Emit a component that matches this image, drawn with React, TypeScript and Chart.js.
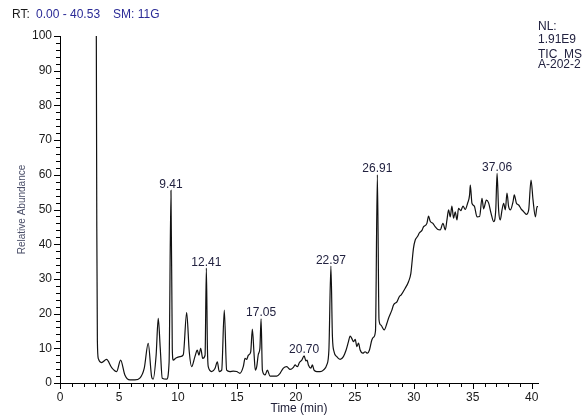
import React, { useEffect, useRef } from "react";
import { Chart, registerables } from "chart.js";

Chart.register(...registerables);

// Retention time (min) and relative abundance (%)
const times: number[] = [
  3.08, 3.12, 3.17, 3.25, 3.52, 3.95, 4.37, 4.8, 5.14, 5.5, 5.93, 6.35, 6.77, 7.14, 7.48, 7.77, 7.9, 8.15, 8.33, 8.5,
  8.67, 9.04, 9.25, 9.41, 9.52, 9.6, 9.83, 10.17, 10.45, 10.74, 10.96, 11.16, 11.44, 11.64, 11.78, 11.93, 12.1, 12.3, 12.41, 12.5,
  12.57, 12.86, 13.14, 13.34, 13.5, 13.71, 13.93, 14.13, 14.41, 14.69, 14.98, 15.26, 15.54, 15.69, 15.83, 15.97, 16.17, 16.31, 16.45, 16.56,
  16.68, 16.82, 16.95, 17.05, 17.16, 17.39, 17.58, 17.81, 18.09, 18.38, 18.66, 18.94, 19.23, 19.51, 19.79, 19.93, 20.13, 20.3, 20.5, 20.7,
  20.85, 20.95, 21.06, 21.27, 21.4, 21.54, 21.77, 22.05, 22.33, 22.62, 22.8, 22.97, 23.1, 23.24, 23.47, 23.75, 24.03, 24.26, 24.46, 24.6,
  24.75, 24.88, 25.03, 25.17, 25.31, 25.45, 25.68, 25.87, 26.07, 26.24, 26.44, 26.58, 26.75, 26.91, 27.05, 27.2, 27.49, 27.72, 27.85, 28.14,
  28.28, 28.57, 28.79, 28.93, 29.27, 29.55, 29.75, 29.84, 29.97, 30.12, 30.31, 30.48, 30.69, 30.82, 31.11, 31.25, 31.39, 31.62, 31.82, 32.01,
  32.24, 32.47, 32.67, 32.81, 32.95, 33.09, 33.23, 33.37, 33.51, 33.66, 33.79, 33.99, 34.17, 34.36, 34.56, 34.73, 34.79, 34.93, 35.13, 35.36,
  35.58, 35.78, 35.92, 36.15, 36.34, 36.55, 36.77, 36.95, 37.06, 37.19, 37.33, 37.48, 37.62, 37.76, 37.9, 38.04, 38.19, 38.41, 38.52, 38.7,
  38.89, 39.09, 39.31, 39.54, 39.74, 39.94, 40.11, 40.31, 40.45, 40.53,
];

const abundance: number[] = [
  100, 45, 12, 7, 5.9, 6.8, 4.5, 3.3, 6.6, 2.3, 0.9, 0.9, 1.4, 4.2, 11.4, 1.8, 1.1, 8, 18.6, 10,
  1.4, 1.1, 6, 55.5, 10, 6.6, 7.2, 7.6, 8.1, 20.3, 9, 4.7, 7.6, 9.5, 8, 10, 7.1, 8, 33.1, 10,
  4.7, 3.3, 4.2, 6.1, 3.3, 3.7, 21, 3.7, 3.3, 3.4, 3.3, 2.8, 4.7, 7.1, 6.8, 8, 9, 15.5, 8.6, 3.7,
  4.7, 8.3, 10, 18.5, 3.7, 2.3, 3.7, 2, 2, 2, 2.8, 4.3, 4.7, 3.9, 4.5, 5.2, 4.7, 5.9, 6.6, 7.8,
  6.4, 6.6, 5.2, 4.3, 5.2, 3.7, 3.3, 3.3, 3.7, 5.2, 9.5, 33.7, 13.3, 9, 7.6, 6.8, 7.6, 9.5, 11.9, 13.5,
  12.8, 11.9, 12.6, 10.5, 11.5, 9.5, 8.6, 9, 8.6, 9.5, 12.4, 13.2, 15, 60, 18.2, 16.7, 15.3, 17.2, 18.6, 21,
  22.5, 23.4, 25, 25.4, 27.3, 29.2, 31.6, 34.5, 38.8, 41.2, 42.2, 43.3, 44, 45, 46, 48.1, 46.6, 46, 45, 44.3,
  44.1, 46, 44.1, 47, 49.9, 47.9, 51, 47.5, 49.3, 47, 50.3, 49.7, 51, 50, 51.8, 54.2, 57, 51.8, 51, 47.9,
  48, 53.2, 50.2, 52.7, 51.9, 48.9, 46.5, 50, 60.4, 49.9, 47, 49.9, 51.8, 49.9, 54.7, 50.8, 49.9, 52.2, 54.2, 51.8,
  51.3, 50.2, 49.4, 48.6, 49.9, 58.5, 52.7, 47.9, 50.8, 50.8,
];

// Labelled peaks (retention times)
const peakTimes: number[] = [9.41, 12.41, 17.05, 20.7, 22.97, 26.91, 37.06];
const peakLabels: string[] = ["9.41", "12.41", "17.05", "20.70", "22.97", "26.91", "37.06"];

// Axis ranges and tick steps
const xMin = 0;
const xMax = 40.53;
const xMajorStep = 5;
const xMinorStep = 1;
const yMin = 0;
const yMax = 100;
const yMajorStep = 10;
const yMinorStep = 2;

const headerRT = "RT:";
const headerRange = "0.00 - 40.53";
const headerSM = "SM: 11G";
const infoLines: string[] = ["NL:", "1.91E9", "TIC  MS", "A-202-2"];

const FONT = "'Liberation Sans', Arial, Helvetica, sans-serif";

export default function App() {
  const ref = useRef<HTMLCanvasElement | null>(null);

  useEffect(() => {
    const canvas = ref.current;
    if (!canvas) return;

    const tickPlugin = {
      id: "tickMarks",
      afterDraw(chart: any) {
        const ctx = chart.ctx;
        const xs = chart.scales.x;
        const ys = chart.scales.y;
        const area = chart.chartArea;
        ctx.save();
        ctx.strokeStyle = "#000";
        ctx.lineWidth = 1;
        ctx.beginPath();
        for (let t = xMin; t <= 40 + 1e-6; t += xMinorStep) {
          const px = Math.round(xs.getPixelForValue(t)) + 0.5;
          const major = Math.abs(t % xMajorStep) < 1e-6;
          const len = major ? 6 : 4;
          ctx.moveTo(px, area.bottom);
          ctx.lineTo(px, area.bottom + len);
        }
        for (let v = yMin; v <= yMax + 1e-6; v += yMinorStep) {
          const py = Math.round(ys.getPixelForValue(v)) + 0.5;
          const major = Math.abs(v % yMajorStep) < 1e-6;
          const len = major ? 6 : 4;
          ctx.moveTo(area.left - len, py);
          ctx.lineTo(area.left, py);
        }
        ctx.stroke();
        ctx.restore();
      },
    };

    const textPlugin = {
      id: "texts",
      afterDraw(chart: any) {
        const ctx = chart.ctx;
        const xs = chart.scales.x;
        const ys = chart.scales.y;
        ctx.save();
        ctx.font = `12px ${FONT}`;
        // peak labels
        ctx.fillStyle = "#222240";
        ctx.textAlign = "center";
        ctx.textBaseline = "alphabetic";
        peakTimes.forEach((t, i) => {
          let idx = 0;
          let best = Infinity;
          times.forEach((tt, j) => {
            const d = Math.abs(tt - t);
            if (d < best) {
              best = d;
              idx = j;
            }
          });
          const px = xs.getPixelForValue(times[idx]);
          const py = ys.getPixelForValue(abundance[idx]);
          ctx.fillText(peakLabels[i], px, py - 2.5);
        });
        // header
        ctx.textAlign = "left";
        ctx.textBaseline = "middle";
        ctx.fillStyle = "#1a1a1a";
        ctx.fillText(headerRT, 12, 15);
        ctx.fillStyle = "#2a2a96";
        ctx.fillText(headerRange, 36, 15);
        ctx.fillText(headerSM, 113, 15);
        // info block
        ctx.fillStyle = "#222240";
        const ys2 = [27, 40, 55, 65];
        infoLines.forEach((s, i) => ctx.fillText(s, 538, ys2[i]));
        ctx.restore();
      },
    };

    const chart = new Chart(canvas, {
      type: "line",
      data: {
        datasets: [
          {
            data: times.map((t, i) => ({ x: t, y: abundance[i] })),
            borderColor: "#111",
            borderWidth: 1.2,
            pointRadius: 0,
            fill: false,
            cubicInterpolationMode: "monotone",
          },
        ],
      },
      options: {
        animation: false,
        responsive: false,
        maintainAspectRatio: false,
        layout: { padding: { top: 36, right: 47, left: 0, bottom: 0 } },
        plugins: { legend: { display: false }, tooltip: { enabled: false } },
        scales: {
          x: {
            type: "linear",
            min: xMin,
            max: xMax,
            border: { display: true, color: "#000", width: 1 },
            grid: { display: false, drawTicks: false },
            ticks: {
              stepSize: xMajorStep,
              includeBounds: false,
              autoSkip: false,
              maxRotation: 0,
              padding: 7,
              color: "#1a1a1a",
              font: { family: FONT, size: 12 },
              callback: (v: any) => String(v),
            },
            title: {
              display: true,
              text: "Time (min)",
              color: "#22223a",
              font: { family: FONT, size: 12 },
              padding: { top: 0, bottom: 3 },
            },
            afterFit: (s: any) => {
              s.height = 36;
            },
          },
          y: {
            type: "linear",
            min: yMin,
            max: yMax,
            border: { display: true, color: "#000", width: 1 },
            grid: { display: false, drawTicks: false },
            ticks: {
              stepSize: yMajorStep,
              autoSkip: false,
              padding: 8,
              color: "#1a1a1a",
              font: { family: FONT, size: 12 },
            },
            title: {
              display: true,
              text: "Relative Abundance",
              color: "#4a4e68",
              font: { family: FONT, size: 10 },
              padding: { top: 16.5, bottom: 0 },
            },
            afterFit: (s: any) => {
              s.width = 60;
            },
          },
        },
      } as any,
      plugins: [tickPlugin, textPlugin],
    });

    return () => chart.destroy();
  }, []);

  return (
    <div style={{ position: "absolute", left: 0, top: 0, width: 585, height: 419, background: "#fff" }}>
      <canvas ref={ref} width={585} height={419} style={{ display: "block" }} />
    </div>
  );
}
